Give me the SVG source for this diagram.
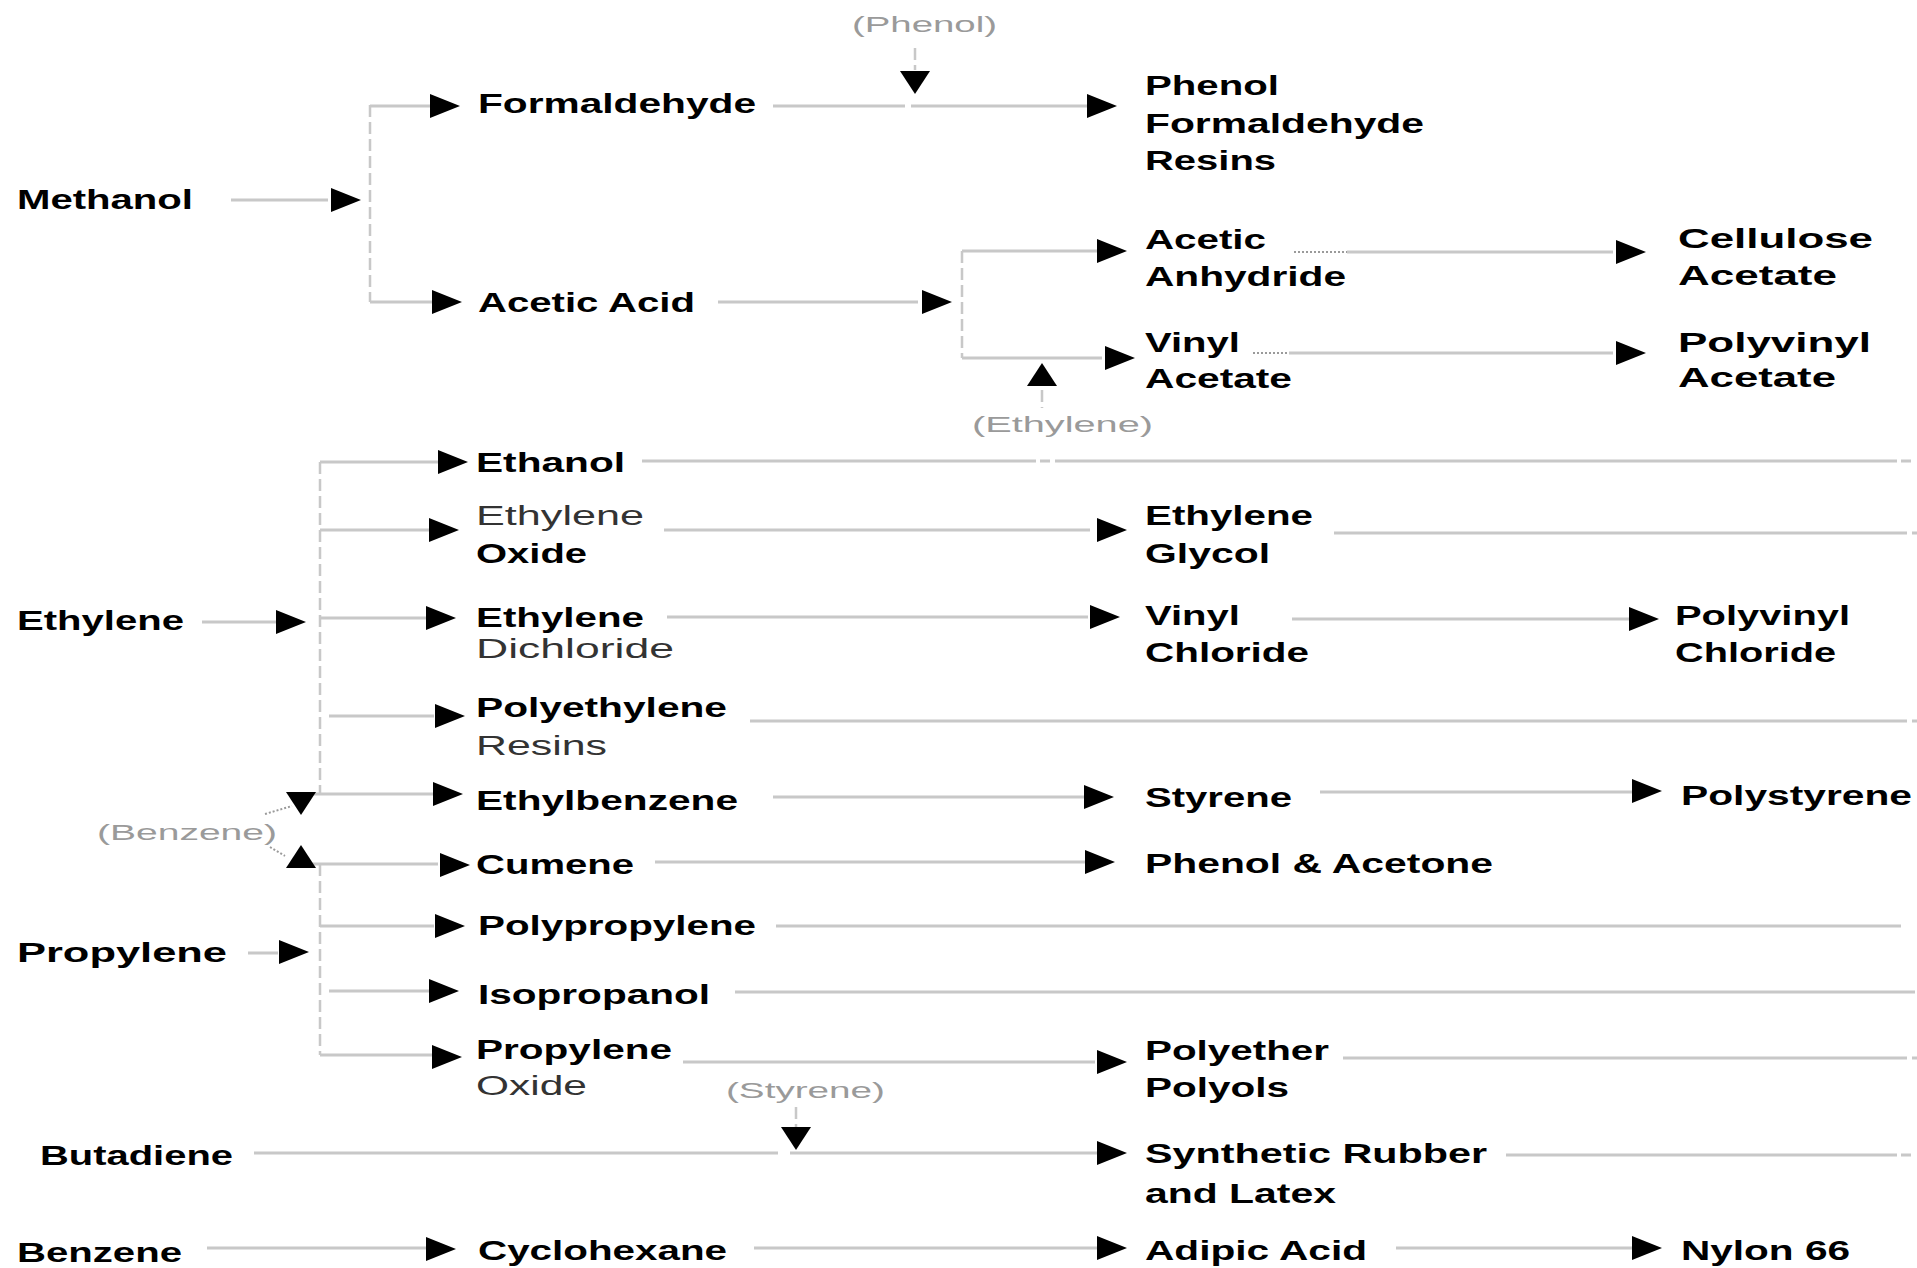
<svg xmlns="http://www.w3.org/2000/svg" xmlns:xlink="http://www.w3.org/1999/xlink" width="1917" height="1268" viewBox="0 0 1917 1268">
<style>
text { font-family: "Liberation Sans", Arial, sans-serif; }
.t { font-size: 27px; font-weight: bold; fill: #000; }
.g { font-size: 27px; font-weight: normal; fill: #333; }
.s { font-size: 22px; font-weight: normal; fill: #9a9a9a; }
.ln { stroke: #c8c8c8; stroke-width: 3; fill: none; }
.dl { stroke: #c8c8c8; stroke-width: 2.5; stroke-dasharray: 12 5; fill: none; }
.dt { stroke: #9a9a9a; stroke-width: 2; stroke-dasharray: 2 2; fill: none; }
.ah { fill: #000; }
</style>
<defs>
<path id="ar" class="ah" d="M-30,-12 L0,0 L-30,12 Z"/>
<path id="ad" class="ah" d="M-15,-23 L0,0 L15,-23 Z"/>
<path id="au" class="ah" d="M-15,23 L0,0 L15,23 Z"/>
</defs>
<rect width="1917" height="1268" fill="#fff"/>

<g id="connectors">
<path class="ln" d="M231,200 H328 M370,106 H430 M370,302 H434 M773,106 H905 M911,106 H1088 M718,302 H918 M962,251 H1097 M962,358 H1102 M1347,252 H1613 M1289,353 H1613"/>
<path class="dl" d="M370,105 V302 M915,48 V70 M962,251 V358 M1042,390 V408 M320,462 V794 M320,864 V1055 M796,1107 V1128"/>
<path class="dt" d="M1294,252 H1347 M1253,353 H1289 M265,814 L292,806 M270,847 L285,856"/>
<path class="ln" d="M320,462 H441 M642,461 H1036 M1040,461 H1050 M1055,461 H1897 M1901,461 H1911
M320,530 H429 M664,530 H1090 M1334,533 H1907 M1912,533 H1917
M202,622 H276 M320,618 H428 M667,617 H1088 M1292,619 H1630
M329,716 H434 M750,721 H1907 M1912,721 H1917
M301,794 H435 M773,797 H1084 M1320,792 H1634
M301,864 H438 M655,862 H1085
M320,926 H434 M776,926 H1901
M248,953 H278 M329,991 H430 M735,992 H1915
M320,1055 H432 M683,1062 H1095 M1343,1058 H1907 M1912,1058 H1917
M254,1153 H778 M790,1153 H1097 M1506,1155 H1897 M1901,1155 H1911
M207,1248 H426 M754,1248 H1097 M1396,1248 H1633"/>
<use xlink:href="#ar" x="361" y="200"/>
<use xlink:href="#ar" x="460" y="106"/>
<use xlink:href="#ar" x="462" y="302"/>
<use xlink:href="#ar" x="1117" y="106"/>
<use xlink:href="#ar" x="952" y="302"/>
<use xlink:href="#ar" x="1127" y="251"/>
<use xlink:href="#ar" x="1135" y="358"/>
<use xlink:href="#ar" x="1646" y="252"/>
<use xlink:href="#ar" x="1646" y="353"/>
<use xlink:href="#ar" x="468" y="462"/>
<use xlink:href="#ar" x="459" y="530"/>
<use xlink:href="#ar" x="1127" y="530"/>
<use xlink:href="#ar" x="306" y="622"/>
<use xlink:href="#ar" x="456" y="618"/>
<use xlink:href="#ar" x="1120" y="617"/>
<use xlink:href="#ar" x="1659" y="619"/>
<use xlink:href="#ar" x="465" y="716"/>
<use xlink:href="#ar" x="463" y="794"/>
<use xlink:href="#ar" x="1114" y="797"/>
<use xlink:href="#ar" x="1662" y="791"/>
<use xlink:href="#ar" x="470" y="865"/>
<use xlink:href="#ar" x="1115" y="862"/>
<use xlink:href="#ar" x="465" y="926"/>
<use xlink:href="#ar" x="309" y="952"/>
<use xlink:href="#ar" x="459" y="991"/>
<use xlink:href="#ar" x="462" y="1057"/>
<use xlink:href="#ar" x="1127" y="1062"/>
<use xlink:href="#ar" x="1127" y="1153"/>
<use xlink:href="#ar" x="456" y="1249"/>
<use xlink:href="#ar" x="1127" y="1248"/>
<use xlink:href="#ar" x="1662" y="1248"/>
<use xlink:href="#ad" x="915" y="94"/>
<use xlink:href="#ad" x="796" y="1150"/>
<use xlink:href="#ad" x="301" y="815"/>
<use xlink:href="#au" x="1042" y="363"/>
<use xlink:href="#au" x="301" y="845"/>
</g>

<g id="label-phenol"><text class="s" x="852" y="32" textLength="145" lengthAdjust="spacingAndGlyphs">(Phenol)</text></g>
<g id="label-ethylene"><text class="s" x="972" y="432" textLength="181" lengthAdjust="spacingAndGlyphs">(Ethylene)</text></g>
<g id="label-benzene"><text class="s" x="97" y="840" textLength="180" lengthAdjust="spacingAndGlyphs">(Benzene)</text></g>
<g id="label-styrene"><text class="s" x="726" y="1098" textLength="159" lengthAdjust="spacingAndGlyphs">(Styrene)</text></g>

<g id="methanol"><text class="t" x="17" y="209" textLength="176" lengthAdjust="spacingAndGlyphs">Methanol</text></g>
<g id="formaldehyde"><text class="t" x="478" y="113" textLength="278" lengthAdjust="spacingAndGlyphs">Formaldehyde</text></g>
<g id="acetic-acid"><text class="t" x="478" y="312" textLength="217" lengthAdjust="spacingAndGlyphs">Acetic Acid</text></g>
<g id="pf-resins">
<text class="t" x="1145" y="95" textLength="134" lengthAdjust="spacingAndGlyphs">Phenol</text>
<text class="t" x="1145" y="133" textLength="279" lengthAdjust="spacingAndGlyphs">Formaldehyde</text>
<text class="t" x="1145" y="170" textLength="131" lengthAdjust="spacingAndGlyphs">Resins</text>
</g>
<g id="acetic-anhydride">
<text class="t" x="1145" y="249" textLength="121" lengthAdjust="spacingAndGlyphs">Acetic</text>
<text class="t" x="1145" y="286" textLength="201" lengthAdjust="spacingAndGlyphs">Anhydride</text>
</g>
<g id="cellulose-acetate">
<text class="t" x="1678" y="248" textLength="195" lengthAdjust="spacingAndGlyphs">Cellulose</text>
<text class="t" x="1678" y="285" textLength="159" lengthAdjust="spacingAndGlyphs">Acetate</text>
</g>
<g id="vinyl-acetate">
<text class="t" x="1145" y="352" textLength="95" lengthAdjust="spacingAndGlyphs">Vinyl</text>
<text class="t" x="1145" y="388" textLength="147" lengthAdjust="spacingAndGlyphs">Acetate</text>
</g>
<g id="polyvinyl-acetate">
<text class="t" x="1678" y="352" textLength="193" lengthAdjust="spacingAndGlyphs">Polyvinyl</text>
<text class="t" x="1678" y="387" textLength="158" lengthAdjust="spacingAndGlyphs">Acetate</text>
</g>
<g id="ethanol"><text class="t" x="476" y="472" textLength="149" lengthAdjust="spacingAndGlyphs">Ethanol</text></g>
<g id="ethylene-oxide">
<text class="g" x="476" y="525" textLength="168" lengthAdjust="spacingAndGlyphs">Ethylene</text>
<text class="t" x="476" y="563" textLength="111" lengthAdjust="spacingAndGlyphs">Oxide</text>
</g>
<g id="ethylene-glycol">
<text class="t" x="1145" y="525" textLength="168" lengthAdjust="spacingAndGlyphs">Ethylene</text>
<text class="t" x="1145" y="563" textLength="125" lengthAdjust="spacingAndGlyphs">Glycol</text>
</g>
<g id="ethylene"><text class="t" x="17" y="630" textLength="167" lengthAdjust="spacingAndGlyphs">Ethylene</text></g>
<g id="ethylene-dichloride">
<text class="t" x="476" y="627" textLength="168" lengthAdjust="spacingAndGlyphs">Ethylene</text>
<text class="g" x="476" y="658" textLength="198" lengthAdjust="spacingAndGlyphs">Dichloride</text>
</g>
<g id="vinyl-chloride">
<text class="t" x="1145" y="625" textLength="95" lengthAdjust="spacingAndGlyphs">Vinyl</text>
<text class="t" x="1145" y="662" textLength="164" lengthAdjust="spacingAndGlyphs">Chloride</text>
</g>
<g id="polyvinyl-chloride">
<text class="t" x="1675" y="625" textLength="175" lengthAdjust="spacingAndGlyphs">Polyvinyl</text>
<text class="t" x="1675" y="662" textLength="161" lengthAdjust="spacingAndGlyphs">Chloride</text>
</g>
<g id="polyethylene-resins">
<text class="t" x="476" y="717" textLength="251" lengthAdjust="spacingAndGlyphs">Polyethylene</text>
<text class="g" x="476" y="755" textLength="131" lengthAdjust="spacingAndGlyphs">Resins</text>
</g>
<g id="ethylbenzene"><text class="t" x="476" y="810" textLength="262" lengthAdjust="spacingAndGlyphs">Ethylbenzene</text></g>
<g id="styrene"><text class="t" x="1145" y="807" textLength="147" lengthAdjust="spacingAndGlyphs">Styrene</text></g>
<g id="polystyrene"><text class="t" x="1681" y="805" textLength="231" lengthAdjust="spacingAndGlyphs">Polystyrene</text></g>
<g id="cumene"><text class="t" x="476" y="874" textLength="158" lengthAdjust="spacingAndGlyphs">Cumene</text></g>
<g id="phenol-acetone"><text class="t" x="1145" y="873" textLength="348" lengthAdjust="spacingAndGlyphs">Phenol &amp; Acetone</text></g>
<g id="polypropylene"><text class="t" x="478" y="935" textLength="278" lengthAdjust="spacingAndGlyphs">Polypropylene</text></g>
<g id="propylene"><text class="t" x="17" y="962" textLength="210" lengthAdjust="spacingAndGlyphs">Propylene</text></g>
<g id="isopropanol"><text class="t" x="478" y="1004" textLength="232" lengthAdjust="spacingAndGlyphs">Isopropanol</text></g>
<g id="propylene-oxide">
<text class="t" x="476" y="1059" textLength="196" lengthAdjust="spacingAndGlyphs">Propylene</text>
<text class="g" x="476" y="1095" textLength="111" lengthAdjust="spacingAndGlyphs">Oxide</text>
</g>
<g id="polyether-polyols">
<text class="t" x="1145" y="1060" textLength="184" lengthAdjust="spacingAndGlyphs">Polyether</text>
<text class="t" x="1145" y="1097" textLength="144" lengthAdjust="spacingAndGlyphs">Polyols</text>
</g>
<g id="butadiene"><text class="t" x="40" y="1165" textLength="193" lengthAdjust="spacingAndGlyphs">Butadiene</text></g>
<g id="synthetic-rubber">
<text class="t" x="1145" y="1163" textLength="342" lengthAdjust="spacingAndGlyphs">Synthetic Rubber</text>
<text class="t" x="1145" y="1203" textLength="191" lengthAdjust="spacingAndGlyphs">and Latex</text>
</g>
<g id="benzene"><text class="t" x="17" y="1262" textLength="165" lengthAdjust="spacingAndGlyphs">Benzene</text></g>
<g id="cyclohexane"><text class="t" x="478" y="1260" textLength="249" lengthAdjust="spacingAndGlyphs">Cyclohexane</text></g>
<g id="adipic-acid"><text class="t" x="1145" y="1260" textLength="222" lengthAdjust="spacingAndGlyphs">Adipic Acid</text></g>
<g id="nylon-66"><text class="t" x="1681" y="1260" textLength="169" lengthAdjust="spacingAndGlyphs">Nylon 66</text></g>
</svg>
